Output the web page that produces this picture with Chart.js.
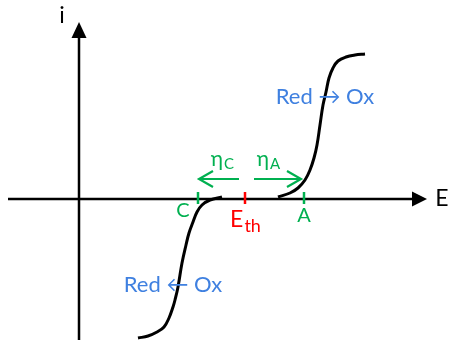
<!DOCTYPE html>
<html>
<head>
<meta charset="utf-8">
<script src="https://cdn.jsdelivr.net/npm/chart.js@4"></script>
<style>
    html, body { margin: 0; padding: 0; background: #ffffff; }
    #box { width: 449px; height: 354px; }
</style>
</head>
<body>
<div id="box"><canvas id="graficoIE"></canvas></div>
<script>
// i(E) branches, potential E on x, current i on y
const anodicE = [19.9, 21.1, 21.9, 22.6, 23.1, 23.5, 23.8, 24.1, 24.4, 24.7, 25.0, 25.4, 25.9, 26.7, 27.6, 28.6];
const anodicI = [0.2, 0.6, 1.1, 1.9, 2.9, 4.1, 5.4, 7.4, 9.4, 10.7, 12.1, 13.1, 13.8, 14.2, 14.4, 14.5];
const cathodicE = [5.9, 6.9, 7.8, 8.5, 9.0, 9.4, 9.6, 9.9, 10.3, 10.7, 11.0, 11.4, 11.8, 12.3, 13.1, 14.3];
const cathodicI = [-13.9, -13.7, -13.3, -12.8, -11.9, -10.8, -10.1, -8.8, -6.4, -4.6, -3.4, -2.3, -1.3, -0.6, -0.1, 0.2];

// marked potentials on the E axis
const tickNames = ["C", "Eth", "A"];
const tickE = [11.9, 16.6, 22.5];

// overpotential arrows (start, end)
const etaC = [16.0, 12.0];
const etaA = [17.5, 22.2];

const VERDE = "#00b050";
const VERMELHO = "#ff0000";
const AZUL = "#3f80e0";
const FONTE = "Lato, 'Noto Sans', sans-serif";

function pontos(xs, ys) {
    return xs.map((x, k) => ({ x: x, y: ys[k] }));
}

function textoSub(ctx, x, y, base, sub, size, subSize) {
    // base letter plus lowered subscript, centred on x
    ctx.font = size + "px " + FONTE;
    const wb = ctx.measureText(base).width;
    ctx.font = subSize + "px " + FONTE;
    const ws = ctx.measureText(sub).width;
    let left = x - (wb + ws) / 2;
    ctx.textAlign = "left";
    ctx.textBaseline = "middle";
    ctx.font = size + "px " + FONTE;
    ctx.fillText(base, left, y);
    ctx.font = subSize + "px " + FONTE;
    ctx.fillText(sub, left + wb + 1, y + size * 0.25);
}

function setaAberta(ctx, x1, y, x2) {
    const dir = x2 > x1 ? 1 : -1;
    ctx.beginPath();
    ctx.moveTo(x1, y);
    ctx.lineTo(x2, y);
    ctx.moveTo(x2 - dir * 14, y - 8);
    ctx.lineTo(x2, y);
    ctx.lineTo(x2 - dir * 14, y + 8);
    ctx.stroke();
}

const desenhoEixos = {
    id: "desenhoEixos",
    afterDatasetsDraw(chart) {
        const ctx = chart.ctx;
        const sx = chart.scales.x;
        const sy = chart.scales.y;
        const x0 = sx.getPixelForValue(0);
        const y0 = sy.getPixelForValue(0);
        ctx.save();

        // axes with filled arrowheads
        ctx.strokeStyle = "#000";
        ctx.fillStyle = "#000";
        ctx.lineWidth = 2.5;
        const xFim = sx.getPixelForValue(34.8);
        const yFim = sy.getPixelForValue(17.7);
        ctx.beginPath();
        ctx.moveTo(sx.getPixelForValue(-7.1), y0);
        ctx.lineTo(xFim - 12, y0);
        ctx.moveTo(x0, sy.getPixelForValue(-14.1));
        ctx.lineTo(x0, yFim + 14);
        ctx.stroke();
        ctx.beginPath();
        ctx.moveTo(xFim, y0);
        ctx.lineTo(xFim - 15, y0 - 7.5);
        ctx.lineTo(xFim - 15, y0 + 7.5);
        ctx.closePath();
        ctx.fill();
        ctx.beginPath();
        ctx.moveTo(x0, yFim);
        ctx.lineTo(x0 - 7.5, yFim + 16);
        ctx.lineTo(x0 + 7.5, yFim + 16);
        ctx.closePath();
        ctx.fill();

        ctx.font = "23px " + FONTE;
        ctx.textAlign = "center";
        ctx.textBaseline = "middle";
        ctx.fillText("E", xFim + 15, y0);
        ctx.fillText("i", x0 - 17, yFim - 6);

        // ticks and their names
        ctx.lineWidth = 2.5;
        tickE.forEach((e, k) => {
            const px = sx.getPixelForValue(e);
            const cor = tickNames[k] === "Eth" ? VERMELHO : VERDE;
            ctx.strokeStyle = cor;
            ctx.fillStyle = cor;
            ctx.beginPath();
            ctx.moveTo(px, y0 - 7);
            ctx.lineTo(px, y0 + 5);
            ctx.stroke();
            if (tickNames[k] === "Eth") {
                textoSub(ctx, px, y0 + 21, "E", "th", 23, 18);
            } else {
                ctx.font = "20px " + FONTE;
                ctx.textAlign = "center";
                ctx.textBaseline = "middle";
                const dx = tickNames[k] === "C" ? -15 : 0;
                const dy = tickNames[k] === "C" ? 12 : 17;
                ctx.fillText(tickNames[k], px + dx, y0 + dy);
            }
        });

        // overpotential arrows
        ctx.strokeStyle = VERDE;
        ctx.fillStyle = VERDE;
        ctx.lineWidth = 2.2;
        const ySeta = sy.getPixelForValue(2.0);
        setaAberta(ctx, sx.getPixelForValue(etaC[0]), ySeta, sx.getPixelForValue(etaC[1]));
        setaAberta(ctx, sx.getPixelForValue(etaA[0]), ySeta, sx.getPixelForValue(etaA[1]));
        textoSub(ctx, sx.getPixelForValue(14.3), ySeta - 20, "η", "C", 21, 15);
        textoSub(ctx, sx.getPixelForValue(18.9), ySeta - 20, "η", "A", 21, 15);

        // reaction direction labels
        ctx.fillStyle = AZUL;
        ctx.font = "22px " + FONTE;
        ctx.textAlign = "center";
        ctx.textBaseline = "middle";
        ctx.fillText("Red \u2192 Ox", sx.getPixelForValue(24.6), sy.getPixelForValue(10.2));
        ctx.fillText("Red \u2190 Ox", sx.getPixelForValue(9.4), sy.getPixelForValue(-8.6));

        ctx.restore();
    }
};

new Chart(document.getElementById("graficoIE").getContext("2d"), {
    type: "scatter",
    data: {
        datasets: [
            {
                label: "anodic",
                data: pontos(anodicE, anodicI),
                showLine: true,
                borderColor: "#000",
                borderWidth: 3,
                pointRadius: 0,
                tension: 0.4
            },
            {
                label: "cathodic",
                data: pontos(cathodicE, cathodicI),
                showLine: true,
                borderColor: "#000",
                borderWidth: 3,
                pointRadius: 0,
                tension: 0.4
            }
        ]
    },
    options: {
        responsive: true,
        maintainAspectRatio: false,
        animation: false,
        layout: { padding: 0 },
        plugins: {
            legend: { display: false },
            tooltip: { enabled: false }
        },
        scales: {
            x: { type: "linear", min: -7.9, max: 37.0, display: false },
            y: { type: "linear", min: -15.5, max: 19.9, display: false }
        }
    },
    plugins: [desenhoEixos]
});
</script>
</body>
</html>
